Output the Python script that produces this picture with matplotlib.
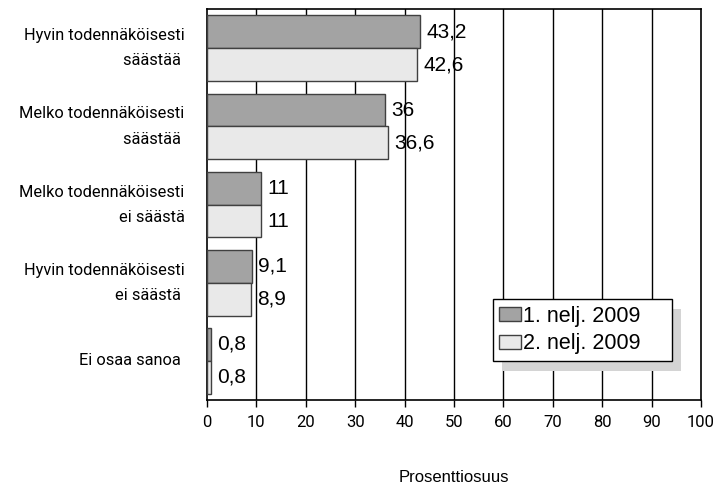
import numpy as np
import matplotlib
matplotlib.use("Agg")
import matplotlib.pyplot as plt
from matplotlib.patches import Rectangle

categories = [
    "Hyvin todennäköisesti\nsäästää ",
    "Melko todennäköisesti\nsäästää ",
    "Melko todennäköisesti\nei säästä",
    "Hyvin todennäköisesti\nei säästä ",
    "Ei osaa sanoa ",
]
series_names = ["1. nelj. 2009", "2. nelj. 2009"]
q1_values = [43.2, 36, 11, 9.1, 0.8]
q2_values = [42.6, 36.6, 11, 8.9, 0.8]
x_ticks = list(range(0, 101, 10))

NARROW = ["Roboto", "DejaVu Sans"]
REG = ["Liberation Sans", "DejaVu Sans"]


def fmt(v):
    return f"{v:g}".replace(".", ",")


fig = plt.figure(figsize=(7.16, 4.86), dpi=100)
ax = fig.add_axes([0.289, 0.177, 0.69, 0.804])

y = np.arange(len(categories))
h = 0.42
colors = ["#a3a3a3", "#e9e9e9"]

for i, vals in enumerate([q1_values, q2_values]):
    pos = y - h / 2 + i * h
    ax.barh(pos, vals, height=h, color=colors[i], edgecolor="#404040",
            linewidth=1.0, label=series_names[i], zorder=3)
    for p, v in zip(pos, vals):
        ax.text(v + 1.3, p, fmt(v), va="center", ha="left",
                fontsize=15, family=REG, zorder=0.5)

ax.set_xlim(0, 100)
ax.set_ylim(len(categories) - 0.5, -0.5)
ax.set_xticks(x_ticks)
ax.set_xticklabels([str(t) for t in x_ticks], family=NARROW, fontsize=12)
ax.set_yticks([])
for t in x_ticks[1:-1]:
    ax.axvline(t, color="black", linewidth=1.0, zorder=1)
ax.tick_params(axis="x", direction="out", length=5, width=1, pad=6)

for s in ax.spines.values():
    s.set_linewidth(1.2)
    s.set_color("black")

for yy, c in zip(y, categories):
    ax.text(-0.045, yy, c, transform=ax.get_yaxis_transform(),
            ha="right", va="center", multialignment="right",
            fontsize=11.8, family=NARROW, linespacing=1.85)

fig.text(0.634, 0.018, "Prosenttiosuus", family=REG, fontsize=12,
         ha="center", va="center")

leg = ax.legend(loc="lower left", bbox_to_anchor=(0.579, 0.1, 0.362, 0.2),
                mode="expand", borderaxespad=0,
                prop={"family": REG, "size": 15.5},
                fancybox=False, framealpha=1, edgecolor="black",
                handlelength=1.0, handleheight=0.6, handletextpad=0.1,
                borderpad=0.3, labelspacing=0.32)
leg.get_frame().set_linewidth(1.0)
leg.set_zorder(6)

fig.canvas.draw()
bb = leg.get_window_extent()
shadow = Rectangle((bb.x0 + 9, bb.y0 - 10), bb.width, bb.height,
                   transform=None, facecolor="#d4d4d4", edgecolor="none",
                   zorder=5)
ax.add_artist(shadow)

fig.savefig("out.png", dpi=100)
